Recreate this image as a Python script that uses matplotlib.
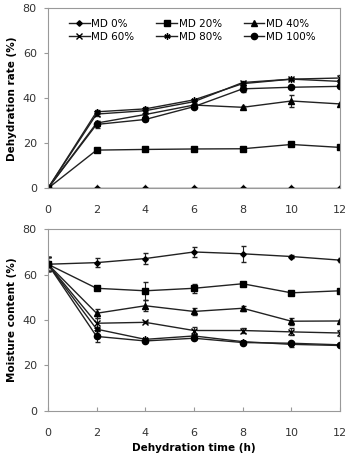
import matplotlib
matplotlib.use("Agg")
import matplotlib.pyplot as plt
from matplotlib.lines import Line2D

plt.rcParams['font.family'] = ['DejaVu Sans']

time_h = [0, 2, 4, 6, 8, 10, 12]
labels = ["MD 0%", "MD 20%", "MD 40%", "MD 60%", "MD 80%", "MD 100%"]

# Dehydration rate (%)
rate_md0 = [0, 0, 0, 0, 0, 0, 0]
rate_md20 = [0, 17.0, 17.3, 17.5, 17.6, 19.5, 18.2]
rate_md40 = [0, 29.0, 32.8, 37.0, 36.0, 38.8, 37.5]
rate_md60 = [0, 33.0, 34.5, 38.5, 47.0, 48.5, 49.0]
rate_md80 = [0, 34.0, 35.3, 39.3, 46.5, 48.5, 47.5]
rate_md100 = [0, 28.4, 30.6, 36.3, 44.2, 44.9, 45.3]
rate_err_md0 = [0, 0, 0, 0, 0, 0, 0]
rate_err_md20 = [0, 0.5, 0.5, 0.5, 0.5, 0.8, 0.5]
rate_err_md40 = [0, 1.0, 0.8, 0.5, 0.5, 2.5, 0.5]
rate_err_md60 = [0, 0.8, 0.8, 0.5, 0.8, 0.5, 1.2]
rate_err_md80 = [0, 0.8, 0.8, 0.5, 0.5, 0.5, 0.8]
rate_err_md100 = [0, 1.5, 0.8, 0.5, 1.5, 0.5, 0.8]

# Moisture content (%)
mc_md0 = [64.6, 65.3, 67.1, 70.0, 69.2, 68.0, 66.4]
mc_md20 = [64.6, 54.0, 52.9, 54.0, 56.0, 52.0, 52.9]
mc_md40 = [64.6, 43.0, 46.3, 43.8, 45.2, 39.5, 39.6]
mc_md60 = [64.6, 38.6, 39.0, 35.4, 35.4, 34.8, 34.3]
mc_md80 = [64.6, 36.0, 31.5, 33.0, 30.5, 29.3, 28.8]
mc_md100 = [64.6, 32.8, 30.8, 32.0, 30.1, 29.8, 29.1]
mc_err_md0 = [3.0, 2.0, 2.5, 2.0, 3.5, 0.5, 1.0]
mc_err_md20 = [3.0, 0.5, 4.0, 2.0, 0.5, 0.5, 0.5]
mc_err_md40 = [3.0, 2.0, 2.5, 1.5, 1.0, 1.5, 0.5]
mc_err_md60 = [3.0, 2.5, 0.5, 1.5, 1.0, 1.5, 1.5]
mc_err_md80 = [3.0, 1.0, 0.5, 1.0, 0.5, 1.0, 0.5]
mc_err_md100 = [3.0, 2.5, 0.5, 0.5, 0.5, 0.5, 0.5]

markers = ['D', 's', '^', 'x', (6, 2, 0), 'o']
msizes = [2.8, 4.5, 4.0, 4.0, 4.5, 4.5]

fig = plt.figure(figsize=(3.47, 4.54), dpi=100)
ax1 = fig.add_axes([0.138, 0.585, 0.842, 0.397])
ax2 = fig.add_axes([0.138, 0.095, 0.842, 0.400])

rate_series = [rate_md0, rate_md20, rate_md40, rate_md60, rate_md80, rate_md100]
rate_errs = [rate_err_md0, rate_err_md20, rate_err_md40, rate_err_md60, rate_err_md80, rate_err_md100]
mc_series = [mc_md0, mc_md20, mc_md40, mc_md60, mc_md80, mc_md100]
mc_errs = [mc_err_md0, mc_err_md20, mc_err_md40, mc_err_md60, mc_err_md80, mc_err_md100]

line_color = '#222222'
handles = []
for i in range(6):
    kw = dict(color=line_color, lw=1.0, marker=markers[i], ms=msizes[i], mfc='black',
              mec='black', mew=1.0)
    ax1.errorbar(time_h, rate_series[i], yerr=rate_errs[i], elinewidth=0.8, capsize=1.8,
                 capthick=0.8, **kw)
    ax2.errorbar(time_h, mc_series[i], yerr=mc_errs[i], elinewidth=0.8, capsize=1.8,
                 capthick=0.8, **kw)
    handles.append(Line2D([], [], **kw))

for ax in (ax1, ax2):
    ax.set_xlim(0, 12)
    ax.set_ylim(0, 80)
    ax.set_xticks(time_h)
    ax.set_yticks([0, 20, 40, 60, 80])
    for s in ax.spines.values():
        s.set_color('#999999')
        s.set_linewidth(0.8)
    ax.tick_params(axis='x', direction='in', length=3, color='#999999', labelsize=8,
                   labelcolor='#333333', pad=12)
    ax.tick_params(axis='y', direction='out', length=3, color='#999999', labelsize=8,
                   labelcolor='#333333', pad=5)

ax1.set_ylabel("Dehydration rate (%)", fontsize=7.5, fontweight='bold', labelpad=4)
ax2.set_ylabel("Moisture content (%)", fontsize=7.5, fontweight='bold', labelpad=4)
ax2.set_xlabel("Dehydration time (h)", fontsize=7.5, fontweight='bold', labelpad=4)

order = [0, 3, 1, 4, 2, 5]
ax1.legend([handles[k] for k in order], [labels[k] for k in order], ncol=3, frameon=False,
           loc='upper left', bbox_to_anchor=(0.05, 0.975), fontsize=7.5,
           handlelength=2.0, handletextpad=0.15, columnspacing=2.1, labelspacing=0.25,
           borderaxespad=0.2)

fig.savefig("out.png", dpi=100)
